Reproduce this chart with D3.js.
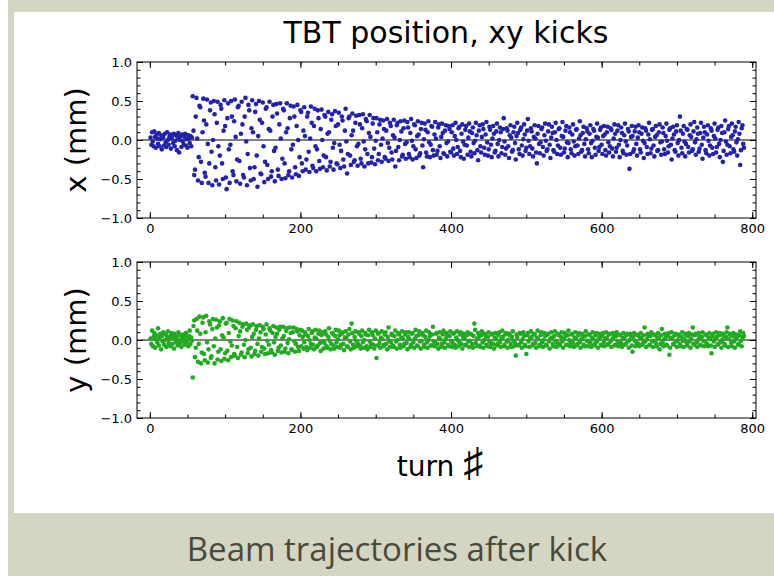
<!DOCTYPE html>
<html>
<head>
<meta charset="utf-8">
<script src="https://cdn.jsdelivr.net/npm/d3@7"></script>
<style>
  body { margin: 0; background: #fff; }
  svg text { font-family: "DejaVu Sans", sans-serif; }
  .axis path { display: none; }
  .axis line { stroke: #000; stroke-width: 1; }
  .axis text { font-size: 13px; fill: #000; }
</style>
</head>
<body>
<svg id="chart" width="774" height="576"></svg>
<script>
// horizontal position (mm), turn by turn, split into stretches of the run
var xBeforeKick = [0.03, -0.06, 0.10, -0.02, -0.08, 0.11, 0.04, -0.10, 0.07, 0.02, -0.05, 0.09, -0.08, 0.01, 0.06, -0.12, 0.05, 0.03, -0.07, 0.08,
  -0.03, -0.09, 0.10, 0.00, -0.06, 0.04, 0.07, -0.11, 0.02, 0.05, -0.04, 0.08, -0.08, -0.01, 0.06, -0.13, 0.03, 0.09, -0.16, 0.00,
  0.05, -0.09, 0.07, -0.02, -0.06, 0.04, 0.08, -0.07, 0.01, -0.10, 0.06, 0.02, -0.04, 0.05, -0.08, 0.03];
var xTurns57to200 = [0.56, 0.12, -0.45, -0.38, 0.30, 0.54, 0.02, -0.52, -0.22, 0.44, 0.42, -0.28, -0.55, 0.10, 0.53, 0.25, -0.42, -0.47, 0.20, 0.52,
  -0.05, -0.55, -0.30, 0.38, 0.48, -0.15, -0.58, 0.00, 0.50, 0.33, -0.35, -0.52, 0.22, 0.49, -0.08, -0.57, -0.20, 0.45, 0.40, -0.30,
  -0.50, 0.12, 0.51, 0.18, -0.48, -0.63, 0.28, 0.47, -0.12, -0.55, -0.06, 0.50, 0.30, -0.40, -0.45, 0.24, 0.52, 0.04, -0.53, -0.25,
  0.42, 0.44, -0.27, -0.56, 0.08, 0.49, 0.20, -0.45, -0.48, 0.30, 0.54, -0.02, -0.58, -0.18, 0.45, 0.38, -0.36, -0.52, 0.15, 0.51,
  0.10, -0.50, -0.35, 0.36, 0.46, -0.20, -0.60, 0.05, 0.50, 0.26, -0.43, -0.44, 0.22, 0.48, -0.08, -0.54, -0.28, 0.40, 0.42, -0.32,
  -0.50, 0.14, 0.49, 0.12, -0.47, -0.40, 0.30, 0.45, -0.14, -0.53, -0.10, 0.46, 0.34, -0.38, -0.46, 0.20, 0.47, 0.02, -0.50, -0.24,
  0.40, 0.38, -0.30, -0.49, 0.10, 0.47, 0.15, -0.45, -0.40, 0.28, 0.44, -0.12, -0.48, -0.06, 0.43, 0.30, -0.35, -0.44, 0.18, 0.45,
  0.00, -0.46, -0.22, 0.38];
var xTurns201to400 = [0.36, -0.30, -0.40, 0.12, 0.42, 0.05, -0.38, -0.25, 0.30, 0.35, -0.15, -0.41, 0.02, 0.43, 0.22, -0.33, -0.36, 0.18, 0.40, -0.08,
  -0.40, -0.12, 0.38, 0.28, -0.27, -0.37, 0.14, 0.39, 0.00, -0.35, -0.20, 0.32, 0.30, -0.22, -0.39, 0.08, 0.36, 0.10, -0.34, -0.28,
  0.26, 0.33, -0.10, -0.38, -0.04, 0.37, 0.18, -0.30, -0.31, 0.20, 0.35, -0.06, -0.36, -0.14, 0.30, 0.25, -0.25, -0.34, 0.12, 0.40,
  -0.02, -0.43, -0.18, 0.28, 0.30, -0.20, -0.32, 0.06, 0.34, 0.12, -0.28, -0.26, 0.22, 0.31, -0.08, -0.33, -0.05, 0.32, 0.20, -0.24,
  -0.30, 0.15, 0.33, -0.02, -0.34, -0.12, 0.27, 0.24, -0.18, -0.30, 0.09, 0.32, 0.04, -0.29, -0.22, 0.21, 0.28, -0.11, -0.31, -0.01,
  0.28, 0.10, -0.26, -0.18, 0.20, 0.26, -0.06, -0.28, 0.02, 0.25, 0.14, -0.22, -0.24, 0.12, 0.27, -0.04, -0.27, -0.10, 0.22, 0.18,
  -0.16, -0.25, 0.06, 0.26, 0.03, -0.34, -0.14, 0.19, 0.22, -0.09, -0.26, 0.00, 0.24, 0.11, -0.21, -0.19, 0.15, 0.25, -0.05, -0.24,
  -0.03, 0.23, 0.16, -0.18, -0.22, 0.09, 0.27, -0.01, -0.25, -0.08, 0.20, 0.19, -0.12, -0.23, 0.05, 0.24, 0.07, -0.20, -0.17, 0.14,
  0.22, -0.07, -0.35, 0.01, 0.21, 0.13, -0.16, -0.21, 0.10, 0.24, -0.03, -0.22, -0.06, 0.18, 0.17, -0.13, -0.20, 0.07, 0.23, 0.02,
  -0.19, -0.14, 0.16, 0.20, -0.08, -0.23, 0.04, 0.21, 0.09, -0.17, -0.18, 0.12, 0.19, -0.04, -0.21, -0.02, 0.18, 0.14, -0.15, -0.16];
var xTurns401to600 = [0.10, 0.19, -0.11, -0.20, 0.05, 0.22, 0.00, -0.18, -0.09, 0.15, 0.17, -0.14, -0.22, 0.08, 0.20, -0.02, -0.24, -0.06, 0.13, 0.18,
  -0.07, -0.19, 0.03, 0.21, 0.11, -0.15, -0.21, 0.09, 0.16, -0.04, -0.17, -0.01, 0.22, 0.06, -0.13, -0.26, 0.12, 0.19, -0.08, -0.16,
  0.04, 0.20, 0.14, -0.10, -0.19, 0.07, 0.23, -0.03, -0.20, -0.12, 0.17, 0.13, -0.06, -0.22, 0.02, 0.18, 0.08, -0.16, -0.14, 0.11,
  0.21, -0.05, -0.21, 0.00, 0.16, 0.10, -0.17, -0.09, 0.14, 0.28, -0.02, -0.19, -0.11, 0.15, 0.12, -0.08, -0.23, 0.06, 0.19, 0.03,
  -0.15, -0.13, 0.10, 0.17, -0.04, -0.25, 0.05, 0.22, 0.09, -0.12, -0.18, 0.13, 0.16, -0.07, -0.20, 0.01, 0.20, 0.07, -0.14, -0.10,
  0.12, 0.27, -0.01, -0.18, -0.08, 0.15, 0.11, -0.11, -0.21, 0.04, 0.19, 0.02, -0.16, -0.30, 0.08, 0.18, -0.05, -0.17, -0.03, 0.14,
  0.16, -0.09, -0.20, 0.06, 0.21, -0.01, -0.14, -0.12, 0.11, 0.20, -0.06, -0.23, 0.03, 0.17, 0.09, -0.13, -0.15, 0.10, 0.22, 0.00,
  -0.18, -0.07, 0.14, 0.15, -0.10, -0.19, 0.05, 0.23, 0.04, -0.16, -0.11, 0.12, 0.18, -0.03, -0.22, -0.04, 0.16, 0.10, -0.12, -0.17,
  0.07, 0.20, -0.02, -0.20, -0.08, 0.13, 0.14, -0.07, -0.18, 0.02, 0.24, 0.06, -0.15, -0.13, 0.09, 0.17, -0.05, -0.21, 0.01, 0.15,
  0.11, -0.12, -0.17, 0.08, 0.19, -0.04, -0.22, -0.01, 0.14, 0.12, -0.10, -0.19, 0.04, 0.21, 0.03, -0.14, -0.09, 0.13, 0.16, -0.06];
var xTurns601to789 = [-0.18, 0.05, 0.18, 0.07, -0.13, -0.20, 0.10, 0.17, -0.03, -0.16, -0.08, 0.15, 0.13, -0.11, -0.21, 0.02, 0.20, 0.08, -0.15, -0.10,
  0.12, 0.19, -0.06, -0.22, 0.00, 0.16, 0.09, -0.14, -0.17, 0.06, 0.21, -0.02, -0.19, -0.07, 0.14, 0.11, -0.37, -0.18, 0.04, 0.18,
  0.05, -0.15, -0.12, 0.11, 0.17, -0.05, -0.20, 0.03, 0.19, 0.10, -0.12, -0.16, 0.08, 0.16, -0.01, -0.23, -0.04, 0.15, 0.12, -0.09,
  -0.18, 0.07, 0.22, 0.01, -0.17, -0.11, 0.13, 0.14, -0.07, -0.21, 0.04, 0.18, 0.06, -0.14, -0.13, 0.10, 0.20, -0.03, -0.19, -0.02,
  0.16, 0.09, -0.12, -0.18, 0.05, 0.21, -0.01, -0.16, -0.08, 0.13, 0.15, -0.06, -0.25, 0.02, 0.17, 0.07, -0.13, -0.15, 0.11, 0.19,
  -0.04, -0.20, 0.00, 0.30, 0.12, -0.10, -0.17, 0.08, 0.18, -0.02, -0.21, -0.05, 0.14, 0.13, -0.09, -0.16, 0.06, 0.20, 0.04, -0.14,
  -0.12, 0.11, 0.23, -0.03, -0.19, 0.01, 0.16, 0.08, -0.15, -0.11, 0.09, 0.22, -0.06, -0.24, 0.03, 0.17, 0.10, -0.13, -0.17, 0.07,
  0.19, -0.01, -0.20, -0.07, 0.15, 0.12, -0.10, -0.18, 0.05, 0.21, 0.02, -0.16, -0.09, 0.13, 0.16, -0.05, -0.22, 0.00, 0.18, 0.09,
  -0.28, -0.14, 0.10, 0.25, -0.02, -0.19, -0.06, 0.14, 0.18, -0.08, -0.17, 0.04, 0.21, 0.06, -0.12, -0.15, 0.11, 0.17, -0.03, -0.20,
  0.01, 0.23, 0.08, -0.32, -0.13, 0.15, 0.19, -0.05, -0.10];

// vertical position (mm), same turns
var yBeforeKick = [0.02, -0.05, 0.12, -0.08, 0.04, 0.09, -0.10, 0.01, 0.06, -0.03, 0.15, -0.07, 0.03, 0.08, -0.12, 0.05, -0.02, 0.10, -0.06, 0.00,
  0.07, -0.09, 0.04, 0.11, -0.04, 0.02, -0.08, 0.06, 0.09, -0.05, 0.03, -0.11, 0.08, 0.01, -0.03, 0.05, -0.07, 0.10, 0.00, -0.04,
  0.06, -0.09, 0.02, 0.07, -0.02, -0.06, 0.04, 0.09, -0.03, 0.01, -0.08, 0.05, 0.12, -0.05, 0.03, -0.01];
var yTurns57to200 = [-0.48, 0.18, 0.25, -0.22, -0.10, 0.27, 0.12, -0.28, -0.05, 0.30, 0.08, -0.30, -0.16, 0.22, 0.29, -0.18, -0.26, 0.10, 0.31, -0.03,
  -0.29, -0.12, 0.24, 0.20, -0.23, -0.21, 0.14, 0.27, -0.08, -0.30, 0.02, 0.26, 0.16, -0.25, -0.15, 0.19, 0.24, -0.12, -0.27, 0.06,
  0.28, 0.03, -0.24, -0.17, 0.21, 0.22, -0.14, -0.26, 0.09, 0.27, -0.02, -0.22, -0.07, 0.25, 0.18, -0.18, -0.20, 0.15, 0.24, -0.09,
  -0.23, 0.05, 0.22, 0.11, -0.19, -0.16, 0.17, 0.20, -0.06, -0.22, 0.00, 0.21, 0.13, -0.17, -0.12, 0.16, 0.19, -0.10, -0.21, 0.04,
  0.20, 0.08, -0.18, -0.14, 0.13, 0.18, -0.05, -0.20, 0.02, 0.19, 0.10, -0.15, -0.09, 0.17, 0.14, -0.11, -0.18, 0.07, 0.20, -0.01,
  -0.17, -0.06, 0.15, 0.12, -0.13, -0.16, 0.09, 0.18, -0.03, -0.19, 0.04, 0.16, 0.08, -0.14, -0.10, 0.13, 0.17, -0.07, -0.16, 0.02,
  0.17, 0.05, -0.15, -0.11, 0.12, 0.15, -0.04, -0.17, 0.01, 0.16, 0.09, -0.12, -0.13, 0.10, 0.16, -0.02, -0.15, -0.05, 0.14, 0.11,
  -0.09, -0.14, 0.06, 0.13];
var yTurns201to400 = [-0.08, 0.12, 0.04, -0.11, -0.03, 0.10, 0.07, -0.09, -0.13, 0.05, 0.14, 0.00, -0.10, -0.05, 0.09, 0.11, -0.06, -0.12, 0.03, 0.13,
  0.02, -0.09, -0.07, 0.08, 0.12, -0.04, -0.14, 0.06, 0.10, -0.02, -0.11, -0.04, 0.11, 0.07, -0.08, -0.10, 0.04, 0.15, -0.01, -0.12,
  -0.05, 0.09, 0.08, -0.07, -0.11, 0.05, 0.13, -0.03, -0.09, 0.01, 0.12, 0.06, -0.10, -0.06, 0.08, 0.10, -0.05, -0.13, 0.03, 0.11,
  0.03, -0.08, -0.09, 0.07, 0.14, -0.02, -0.12, 0.21, 0.09, -0.06, -0.10, 0.04, 0.11, -0.01, -0.08, -0.04, 0.10, 0.08, -0.07, -0.11,
  0.05, 0.12, -0.03, -0.10, 0.00, 0.09, 0.07, -0.08, -0.12, 0.06, 0.13, -0.02, -0.09, -0.05, 0.10, 0.06, -0.06, -0.11, 0.02, 0.12,
  -0.23, -0.07, 0.08, 0.09, -0.04, -0.10, 0.03, 0.11, 0.01, -0.08, -0.06, 0.07, 0.10, -0.05, -0.12, 0.04, 0.16, -0.01, -0.09, -0.03,
  0.08, 0.06, -0.07, -0.09, 0.05, 0.12, -0.02, -0.11, 0.00, 0.09, 0.07, -0.06, -0.10, 0.03, 0.11, 0.02, -0.08, -0.05, 0.07, 0.10,
  -0.04, -0.12, 0.04, 0.10, 0.01, -0.09, -0.06, 0.08, 0.09, -0.03, -0.10, 0.02, 0.13, 0.05, -0.07, -0.08, 0.06, 0.11, -0.02, -0.11,
  -0.01, 0.09, 0.06, -0.06, -0.09, 0.04, 0.12, -0.03, -0.10, 0.00, 0.10, 0.05, -0.07, -0.07, 0.07, 0.17, -0.02, -0.08, -0.04, 0.08,
  0.09, -0.05, -0.11, 0.03, 0.10, 0.01, -0.09, -0.05, 0.07, 0.12, -0.03, -0.10, 0.02, 0.09, 0.06, -0.06, -0.08, 0.05, 0.11, -0.01];
var yTurns401to600 = [-0.09, -0.04, 0.08, 0.09, -0.06, -0.10, 0.03, 0.11, 0.00, -0.08, -0.03, 0.07, 0.10, -0.05, -0.11, 0.04, 0.08, 0.02, -0.07, -0.06,
  0.06, 0.10, -0.02, -0.09, -0.01, 0.08, 0.07, -0.05, -0.10, 0.05, 0.21, 0.13, -0.04, -0.08, 0.02, 0.09, 0.04, -0.07, -0.09, 0.06,
  0.11, -0.03, -0.10, 0.00, 0.08, 0.05, -0.06, -0.08, 0.04, 0.10, -0.02, -0.09, -0.04, 0.07, 0.08, -0.05, -0.11, 0.03, 0.09, 0.01,
  -0.07, -0.05, 0.06, 0.10, -0.03, -0.09, 0.02, 0.12, 0.04, -0.08, -0.06, 0.07, 0.09, -0.02, -0.10, 0.00, 0.08, 0.06, -0.05, -0.09,
  0.04, 0.11, -0.01, -0.08, -0.04, -0.20, 0.07, 0.03, -0.07, -0.06, 0.09, 0.08, -0.03, -0.10, 0.01, 0.10, 0.05, -0.06, -0.08, -0.18,
  0.06, 0.09, -0.02, -0.09, 0.02, 0.11, 0.04, -0.07, -0.05, 0.08, 0.07, -0.04, -0.10, 0.03, 0.12, 0.01, -0.08, -0.06, 0.06, 0.10,
  -0.03, -0.09, 0.00, 0.09, 0.05, -0.06, -0.07, 0.07, 0.08, -0.02, -0.11, 0.02, 0.10, 0.03, -0.05, -0.08, 0.05, 0.11, -0.01, -0.09,
  -0.04, 0.08, 0.06, -0.05, -0.07, 0.04, 0.10, -0.02, -0.10, 0.01, 0.09, 0.05, -0.06, -0.06, 0.06, 0.12, 0.00, -0.08, -0.03, 0.07,
  0.08, -0.04, -0.09, 0.03, 0.10, 0.02, -0.07, -0.05, 0.06, 0.09, -0.03, -0.10, 0.01, 0.08, 0.04, -0.06, -0.08, 0.05, 0.11, -0.01,
  -0.08, -0.02, 0.07, 0.07, -0.04, -0.09, 0.03, 0.10, 0.01, -0.07, -0.05, 0.06, 0.09, -0.02, -0.10, 0.02, 0.08, 0.04, -0.06, -0.07];
var yTurns601to789 = [0.05, 0.09, -0.03, -0.08, 0.02, 0.10, 0.03, -0.06, -0.05, 0.07, 0.08, -0.02, -0.09, 0.01, 0.09, 0.04, -0.07, -0.06, 0.05, 0.10,
  -0.01, -0.08, -0.03, 0.06, 0.07, -0.04, -0.09, 0.03, 0.09, 0.02, -0.06, -0.05, 0.06, 0.08, -0.02, -0.10, 0.00, 0.08, 0.05, -0.07,
  -0.15, 0.04, 0.09, -0.01, -0.08, -0.03, 0.07, 0.06, -0.05, -0.08, 0.03, 0.09, 0.02, -0.06, -0.04, 0.06, 0.16, -0.02, -0.09, 0.01,
  0.08, 0.05, -0.07, -0.06, 0.05, 0.10, -0.02, -0.09, -0.01, 0.07, 0.06, -0.04, -0.08, 0.03, 0.09, 0.02, -0.12, -0.05, 0.06, 0.14,
  -0.03, -0.08, 0.01, 0.08, 0.04, -0.06, -0.07, 0.05, 0.09, -0.19, -0.10, 0.02, 0.10, 0.03, -0.05, -0.06, 0.06, 0.08, -0.02, -0.09,
  0.00, 0.07, 0.05, -0.05, -0.08, 0.04, 0.10, -0.01, -0.09, 0.01, 0.08, 0.06, -0.04, -0.07, 0.05, 0.09, -0.02, -0.10, 0.02, 0.07,
  0.16, -0.05, -0.06, 0.06, 0.08, -0.03, -0.09, 0.00, 0.09, 0.04, -0.06, -0.07, 0.04, 0.10, -0.01, -0.08, -0.02, 0.07, 0.06, -0.05,
  -0.08, 0.03, 0.09, 0.01, -0.07, -0.17, 0.05, 0.08, -0.02, -0.09, 0.02, 0.10, 0.04, -0.06, -0.05, 0.06, 0.09, -0.03, -0.10, 0.00,
  0.08, 0.05, -0.05, -0.07, 0.04, 0.10, 0.16, -0.09, 0.01, 0.08, 0.06, -0.04, -0.08, 0.05, 0.09, -0.02, -0.10, 0.02, 0.07, 0.04,
  -0.06, -0.05, 0.06, 0.11, -0.01, -0.08, 0.03, 0.09, 0.05];

var xTickValues = [0, 200, 400, 600, 800];
var yTickValues = [-1, -0.5, 0, 0.5, 1];
var yTickLabels = ["\u22121.0", "\u22120.5", "0.0", "0.5", "1.0"];

var xPositions = [].concat(xBeforeKick, xTurns57to200, xTurns201to400, xTurns401to600, xTurns601to789);
var yPositions = [].concat(yBeforeKick, yTurns57to200, yTurns201to400, yTurns401to600, yTurns601to789);

var svg = d3.select("#chart");

// slide frame and caption band
var frameColor = "#d4d5c2";
svg.append("rect").attr("x", 8).attr("y", 0).attr("width", 766).attr("height", 12).attr("fill", frameColor);
svg.append("rect").attr("x", 8).attr("y", 0).attr("width", 6).attr("height", 576).attr("fill", frameColor);
svg.append("rect").attr("x", 8).attr("y", 513).attr("width", 766).attr("height", 63).attr("fill", frameColor);
svg.append("text")
    .attr("x", 397).attr("y", 561)
    .attr("text-anchor", "middle")
    .style("font-family", "'Open Sans', sans-serif")
    .style("font-size", "33px")
    .style("fill", "#4a4a3a")
    .text("Beam trajectories after kick");

svg.append("text")
    .attr("x", 446).attr("y", 43)
    .attr("text-anchor", "middle")
    .style("font-size", "30px")
    .text("TBT position, xy kicks");

var left = 137, right = 756;
var x = d3.scaleLinear().domain([-17, 805]).range([left, right]);

function drawPanel(top, bottom, values, color, label) {
    var y = d3.scaleLinear().domain([-1, 1]).range([bottom, top]);
    var g = svg.append("g");

    // zero line
    g.append("line")
        .attr("x1", left).attr("x2", right)
        .attr("y1", y(0)).attr("y2", y(0))
        .attr("stroke", "#000").attr("stroke-width", 1);

    g.selectAll("circle")
        .data(values)
        .enter().append("circle")
        .attr("cx", function (d, i) { return x(i + 1); })
        .attr("cy", function (d) { return y(d); })
        .attr("r", 2.3)
        .attr("fill", color);

    // frame with inward ticks on all four sides
    var xMinor = d3.range(0, 801, 50);
    var yMinor = d3.range(-10, 11).map(function (v) { return v / 10; });

    g.append("g").attr("class", "axis").attr("transform", "translate(0," + bottom + ")")
        .call(d3.axisBottom(x).tickValues(xMinor).tickSize(-3.5).tickFormat(""));
    g.append("g").attr("class", "axis").attr("transform", "translate(0," + bottom + ")")
        .call(d3.axisBottom(x).tickValues(xTickValues).tickSize(-6).tickPadding(6).tickFormat(d3.format("d")));
    g.append("g").attr("class", "axis").attr("transform", "translate(0," + top + ")")
        .call(d3.axisTop(x).tickValues(xMinor).tickSize(-3.5).tickFormat(""));
    g.append("g").attr("class", "axis").attr("transform", "translate(0," + top + ")")
        .call(d3.axisTop(x).tickValues(xTickValues).tickSize(-6).tickFormat(""));

    g.append("g").attr("class", "axis").attr("transform", "translate(" + left + ",0)")
        .call(d3.axisLeft(y).tickValues(yMinor).tickSize(-3.5).tickFormat(""));
    g.append("g").attr("class", "axis").attr("transform", "translate(" + left + ",0)")
        .call(d3.axisLeft(y).tickValues(yTickValues).tickSize(-6).tickPadding(5)
            .tickFormat(function (d, i) { return yTickLabels[i]; }));
    g.append("g").attr("class", "axis").attr("transform", "translate(" + right + ",0)")
        .call(d3.axisRight(y).tickValues(yMinor).tickSize(-3.5).tickFormat(""));
    g.append("g").attr("class", "axis").attr("transform", "translate(" + right + ",0)")
        .call(d3.axisRight(y).tickValues(yTickValues).tickSize(-6).tickFormat(""));

    g.append("rect")
        .attr("x", left).attr("y", top)
        .attr("width", right - left).attr("height", bottom - top)
        .attr("fill", "none").attr("stroke", "#000").attr("stroke-width", 1);

    g.append("text")
        .attr("transform", "translate(86," + ((top + bottom) / 2) + ") rotate(-90)")
        .attr("text-anchor", "middle")
        .style("font-size", "29px")
        .text(label);
}

drawPanel(62, 218, xPositions, "#2222aa", "x (mm)");
drawPanel(262, 418, yPositions, "#22aa22", "y (mm)");

var turnLabel = svg.append("text")
    .attr("x", 440).attr("y", 476)
    .attr("text-anchor", "middle")
    .style("font-size", "28px");
turnLabel.append("tspan").text("turn ");
turnLabel.append("tspan").style("font-size", "40px").style("font-weight", "300").text("\u266f");
</script>
</body>
</html>
